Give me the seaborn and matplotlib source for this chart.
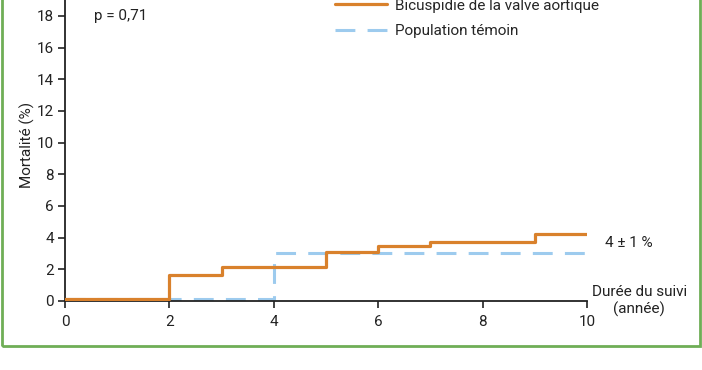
import matplotlib
matplotlib.use("Agg")
import matplotlib.pyplot as plt
from matplotlib.patches import Rectangle
import pandas as pd
import seaborn as sns

# follow-up time (years) and mortality (%) step points
bav_years = [0, 2, 3, 5, 6, 7, 9, 10]
bav_mortality = [0.15, 1.65, 2.15, 3.1, 3.5, 3.75, 4.25, 4.25]
ctrl_years = [0, 4, 10]
ctrl_mortality = [0.15, 3.05, 3.05]

labels = ["Bicuspidie de la valve aortique", "Population témoin"]
x_ticks = [0, 2, 4, 6, 8, 10]
y_ticks = [0, 2, 4, 6, 8, 10, 12, 14, 16, 18]

sns.set_style("white")
plt.rcParams["font.family"] = ["Roboto", "DejaVu Sans"]

df_bav = pd.DataFrame({"years": bav_years, "mortality": bav_mortality})
df_ctrl = pd.DataFrame({"years": ctrl_years, "mortality": ctrl_mortality})

fig = plt.figure(figsize=(7.02, 3.70), dpi=100)
ax = fig.add_axes([65 / 702, 69 / 370, 522 / 702, 301 / 370])

sns.lineplot(data=df_ctrl, x="years", y="mortality", ax=ax, estimator=None, sort=False,
             drawstyle="steps-post", color="#9dcbee", linewidth=2.2,
             linestyle=(0, (6.5, 4)), label=labels[1], zorder=2)
sns.lineplot(data=df_bav, x="years", y="mortality", ax=ax, estimator=None, sort=False,
             drawstyle="steps-post", color="#d9812c", linewidth=2.3,
             label=labels[0], zorder=3)

ax.set_xlim(0, 10)
ax.set_ylim(0, 19)
ax.set_xticks(x_ticks)
ax.set_yticks(y_ticks)
ax.tick_params(axis="both", direction="out", length=5, width=1.2, color="#222222",
               labelsize=11, labelcolor="#222222", bottom=True, left=True)
ax.tick_params(axis="x", pad=5)
ax.tick_params(axis="y", pad=3)
for side in ["top", "right"]:
    ax.spines[side].set_visible(False)
for side in ["left", "bottom"]:
    ax.spines[side].set_linewidth(1.3)
    ax.spines[side].set_color("#222222")

ax.set_xlabel("")
ax.set_ylabel("Mortalité (%)", fontsize=11, color="#222222")
ax.yaxis.set_label_coords(-0.058, 0.52)

ax.text(0.55, 18, "p = 0,71", fontsize=11, color="#222222", va="center", ha="left")
ax.text(10.35, 3.65, "4 ± 1 %", fontsize=11, color="#222222", va="center", ha="left")
ax.text(11.0, 0.0, "Durée du suivi\n(année)", fontsize=11, color="#222222",
        va="center", ha="center", linespacing=1.3, clip_on=False)

handles, _ = ax.get_legend_handles_labels()
ax.legend([handles[1], handles[0]], labels, loc="upper left",
          bbox_to_anchor=(335 / 702, 1.004), bbox_transform=fig.transFigure,
          frameon=False, fontsize=11, handlelength=3.4, handletextpad=0.55,
          labelspacing=0.75, borderpad=0, borderaxespad=0)

# green frame around the figure
fig.add_artist(Rectangle((2 / 702, 24 / 370), 698 / 702, 1.2, transform=fig.transFigure,
                         fill=False, edgecolor="#6fae56", linewidth=2, clip_on=False))

fig.savefig("out.png", dpi=100)
